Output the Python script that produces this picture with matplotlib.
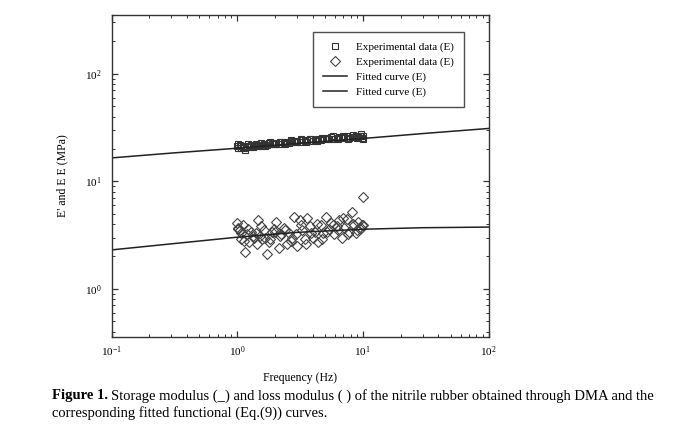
import matplotlib
matplotlib.use("Agg")
import matplotlib.pyplot as plt

plt.rcParams['font.family'] = ['Liberation Serif', 'DejaVu Serif']
plt.rcParams['mathtext.fontset'] = 'custom'
plt.rcParams['mathtext.rm'] = 'Liberation Serif'
plt.rcParams['mathtext.it'] = 'Liberation Serif:italic'
plt.rcParams['mathtext.bf'] = 'Liberation Serif:bold'

# ---- data ----
freq = [1.00, 1.02, 1.05, 1.08, 1.12, 1.16, 1.20, 1.25, 1.30, 1.35, 1.40, 1.46, 1.52, 1.58,
        1.65, 1.72, 1.80, 1.88, 1.96, 2.05, 2.15, 2.25, 2.36, 2.48, 2.60, 2.72, 2.85, 3.00,
        3.15, 3.30, 3.45, 3.62, 3.80, 4.00, 4.20, 4.40, 4.62, 4.85, 5.10, 5.35, 5.60, 5.90,
        6.20, 6.50, 6.80, 7.10, 7.45, 7.80, 8.15, 8.50, 8.85, 9.20, 9.55, 9.80, 10.0,
        1.01, 1.07, 1.14, 1.22, 1.33, 1.43, 1.55, 1.68, 1.84, 2.00, 2.20, 2.42, 2.66, 2.92,
        3.22, 3.53, 3.90, 4.30, 4.73, 5.22, 5.75, 6.35, 6.95, 7.60, 8.30, 9.00, 9.70, 9.95]

storage = [21.3, 20.6, 21.8, 20.2, 21.0, 19.6, 21.4, 20.9, 21.6, 21.1, 22.0, 21.4, 21.9, 21.5,
           22.3, 21.8, 22.5, 22.0, 22.4, 22.8, 22.2, 23.1, 22.6, 23.3, 22.9, 23.6, 23.0, 23.8,
           23.2, 24.3, 23.5, 24.0, 24.6, 23.7, 24.4, 25.0, 24.1, 24.8, 25.3, 24.5, 25.8, 24.9,
           25.4, 26.0, 25.1, 25.7, 26.3, 25.3, 26.1, 25.6, 26.5, 25.9, 26.4, 25.5, 26.2,
           22.2, 21.2, 20.5, 22.1, 20.8, 21.9, 22.6, 21.2, 23.0, 22.1, 23.4, 22.4, 24.0, 23.2,
           24.6, 23.3, 25.0, 23.8, 25.5, 24.6, 26.2, 24.8, 26.6, 25.0, 26.9, 25.2, 27.3, 25.0]

loss = [4.1, 3.6, 3.5, 2.9, 3.9, 2.2, 3.2, 2.7, 3.4, 3.0, 3.3, 4.4, 3.1, 2.9,
        3.5, 2.1, 2.7, 3.4, 3.6, 4.2, 2.4, 3.2, 3.7, 2.6, 3.3, 3.0, 4.7, 2.5,
        4.4, 3.5, 2.9, 4.6, 3.8, 3.0, 3.4, 2.7, 3.9, 3.3, 4.7, 3.6, 4.1, 3.2,
        3.8, 4.4, 3.0, 3.7, 4.5, 3.4, 5.2, 3.9, 3.3, 4.2, 3.6, 3.9, 7.1,
        3.7, 3.3, 2.8, 3.6, 3.1, 2.6, 3.8, 3.0, 2.9, 3.4, 3.1, 3.5, 2.8, 3.2,
        3.9, 2.6, 3.3, 4.0, 2.9, 3.4, 3.9, 3.5, 4.6, 3.2, 4.0, 3.5, 3.7, 3.9]

fit_freq = [0.1, 0.3, 1.0, 3.0, 10.0, 30.0, 100.0]
fit_storage = [16.5, 18.3, 20.3, 22.5, 25.0, 27.8, 31.0]
fit_loss = [2.30, 2.62, 3.02, 3.35, 3.58, 3.70, 3.75]

legend_labels = ["Experimental data (E)", "Experimental data (E)",
                 "Fitted curve (E)", "Fitted curve (E)"]

# ---- figure ----
W, H = 690, 429
fig = plt.figure(figsize=(W / 100, H / 100), dpi=100)
L, R, T, B = 111.5, 488.5, 14.5, 336.5
ax = fig.add_axes([L / W, (H - B) / H, (R - L) / W, (B - T) / H])

ax.plot(freq, storage, linestyle='none', marker='s', markersize=4.2,
        markerfacecolor='none', markeredgecolor='#333333', markeredgewidth=0.8,
        label=legend_labels[0])
ax.plot(freq, loss, linestyle='none', marker='D', markersize=5.5,
        markerfacecolor='none', markeredgecolor='#444444', markeredgewidth=0.8,
        label=legend_labels[1])
ax.plot(fit_freq, fit_storage, color='#222222', lw=1.1, label=legend_labels[2])
ax.plot(fit_freq, fit_loss, color='#222222', lw=1.1, label=legend_labels[3])

ax.set_xscale('log')
ax.set_yscale('log')
ax.set_xlim(0.1, 100)
ax.set_ylim(0.36, 356)

for s in ax.spines.values():
    s.set_linewidth(1.0)
    s.set_color('#333333')

ax.tick_params(which='both', direction='in', top=True, right=True, colors='#333333',
               labelsize=8, labelcolor='black')
ax.tick_params(which='major', length=4, width=0.9)
ax.tick_params(which='minor', length=2.5, width=0.7)
ax.tick_params(axis='x', pad=6)
ax.tick_params(axis='y', pad=7)

ax.set_xlabel("Frequency (Hz)", fontsize=8.5, labelpad=9)
ax.set_ylabel("E' and E E (MPa)", fontsize=8.5, labelpad=12)

leg = ax.legend(loc='upper right', bbox_to_anchor=(0.935, 0.945), fontsize=8,
                frameon=True, fancybox=False, edgecolor='#222222',
                handlelength=2.2, handletextpad=0.8, labelspacing=0.45,
                borderpad=0.9, borderaxespad=0)
leg.get_frame().set_linewidth(1.0)

# caption
fig.canvas.draw()
r = fig.canvas.get_renderer()
t1 = fig.text(52 / W, 1 - 396 / H, "Figure 1.", fontsize=10.5, fontweight='bold',
              va='center', ha='left')
bb = t1.get_window_extent(renderer=r)
fig.text((bb.x1 + 3) / W, 1 - 396 / H,
         "Storage modulus (_) and loss modulus ( ) of the nitrile rubber obtained through DMA and the",
         fontsize=10.5, va='center', ha='left')
fig.text(52 / W, 1 - 413 / H, "corresponding fitted functional (Eq.(9)) curves.",
         fontsize=10.5, va='center', ha='left')

fig.savefig("out.png", dpi=100)
